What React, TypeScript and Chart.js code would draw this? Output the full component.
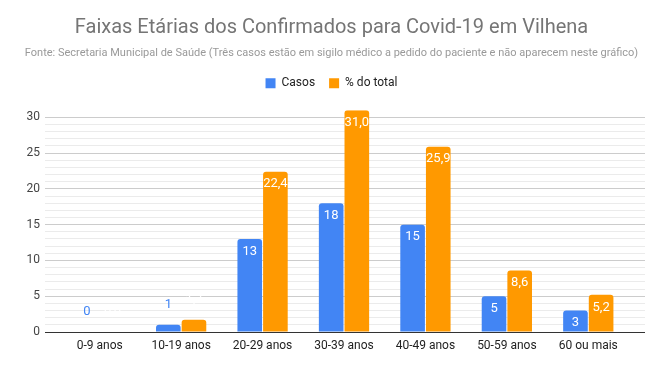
import React, { useEffect, useRef } from "react";
import { Chart, registerables } from "chart.js";

Chart.register(...registerables);

const categories = ["0-9 anos", "10-19 anos", "20-29 anos", "30-39 anos", "40-49 anos", "50-59 anos", "60 ou mais"];
const casos = [0, 1, 13, 18, 15, 5, 3];
const percentual = [0, 1.7, 22.4, 31.0, 25.9, 8.6, 5.2];
const yTickLabels = [0, 5, 10, 15, 20, 25, 30];

const BLUE = "#4285F4";
const ORANGE = "#FF9900";
const FONT = "Roboto, Arial, sans-serif";

const labelPlugin = {
  id: "barLabels",
  afterDatasetsDraw(chart: any) {
    const ctx = chart.ctx;
    ctx.save();
    ctx.font = `13px ${FONT}`;
    ctx.textAlign = "center";
    ctx.textBaseline = "middle";
    chart.data.datasets.forEach((ds: any, di: number) => {
      const meta = chart.getDatasetMeta(di);
      meta.data.forEach((bar: any, i: number) => {
        const v = ds.data[i];
        const h = bar.base - bar.y;
        const text = di === 0 ? String(v) : v.toFixed(1).replace(".", ",");
        let y: number;
        let color: string;
        if (h >= 18) {
          y = bar.y + 12.5;
          color = "#ffffff";
        } else {
          y = bar.y - 20;
          color = di === 0 ? BLUE : "#ffffff";
        }
        ctx.fillStyle = color;
        ctx.fillText(text, bar.x, y);
      });
    });
    ctx.restore();
  },
};

const legendSpacePlugin = {
  id: "legendSpace",
  beforeLayout(chart: any) {
    const legend = chart.legend;
    if (legend && !legend.__patched) {
      const orig = legend.fit;
      legend.fit = function (this: any) {
        orig.call(this);
        this.height += 11;
      };
      legend.__patched = true;
    }
  },
};

function gridColor(v: number) {
  if (v === 0) return "#333333";
  if (v === 31) return "rgba(0,0,0,0)";
  if (v % 5 === 0) return "#cccccc";
  return "#ebebeb";
}

export default function App() {
  const ref = useRef<HTMLCanvasElement | null>(null);
  useEffect(() => {
    const chart = new Chart(ref.current as HTMLCanvasElement, {
      type: "bar",
      data: {
        labels: categories,
        datasets: [
          {
            label: "Casos",
            data: casos,
            backgroundColor: BLUE,
            borderRadius: { topLeft: 3, topRight: 3, bottomLeft: 0, bottomRight: 0 },
            borderSkipped: "bottom",
            categoryPercentage: 0.63,
            barPercentage: 0.96,
          },
          {
            label: "% do total",
            data: percentual,
            backgroundColor: ORANGE,
            borderRadius: { topLeft: 3, topRight: 3, bottomLeft: 0, bottomRight: 0 },
            borderSkipped: "bottom",
            categoryPercentage: 0.63,
            barPercentage: 0.96,
          },
        ],
      },
      options: {
        responsive: false,
        animation: false,
        layout: { padding: { left: 0, right: 0, top: 0, bottom: 0 } },
        plugins: {
          title: {
            display: true,
            text: "Faixas Etárias dos Confirmados para Covid-19 em Vilhena",
            color: "#757575",
            font: { family: FONT, size: 20, weight: "normal" },
            padding: { top: 16, bottom: 7 },
          },
          subtitle: {
            display: true,
            text: "Fonte: Secretaria Municipal de Saúde (Três casos estão em sigilo médico a pedido do paciente e não aparecem neste gráfico)",
            color: "#999999",
            font: { family: FONT, size: 11, weight: "normal" },
            padding: { top: 0, bottom: 3 },
          },
          legend: {
            display: true,
            position: "top",
            labels: {
              boxWidth: 10,
              boxHeight: 10,
              color: "#222222",
              font: { family: FONT, size: 12 },
              padding: 14,
            },
          },
          tooltip: { enabled: false },
        },
        scales: {
          x: {
            grid: { display: false, drawTicks: false },
            border: { display: false },
            ticks: { color: "#222222", font: { family: FONT, size: 12 }, padding: 7, maxRotation: 0, autoSkip: false },
            afterFit(scale: any) {
              scale.height = 39;
            },
          },
          y: {
            min: 0,
            max: 31,
            border: { display: false },
            ticks: {
              stepSize: 1,
              autoSkip: false,
              color: "#444444",
              font: { family: FONT, size: 12 },
              padding: 5,
              callback: (v: any) => (yTickLabels.includes(Number(v)) ? String(v) : ""),
            },
            grid: {
              color: (c: any) => gridColor(c.tick.value),
              tickColor: (c: any) => gridColor(c.tick.value),
              tickLength: 14,
            },
            afterFit(scale: any) {
              scale.width = 59;
            },
          },
          y2: {
            position: "right",
            min: 0,
            max: 31,
            border: { display: false },
            ticks: { stepSize: 1, autoSkip: false, display: false },
            grid: {
              drawOnChartArea: false,
              color: (c: any) => gridColor(c.tick.value),
              tickColor: (c: any) => gridColor(c.tick.value),
              tickLength: 16,
            },
            afterFit(scale: any) {
              scale.width = 34;
            },
          },
        },
      },
      plugins: [labelPlugin, legendSpacePlugin],
    } as any);
    return () => chart.destroy();
  }, []);
  return (
    <div style={{ position: "fixed", left: 0, top: 0, width: 663, height: 371, background: "#fff" }}>
      <canvas ref={ref} width={663} height={371} />
    </div>
  );
}
